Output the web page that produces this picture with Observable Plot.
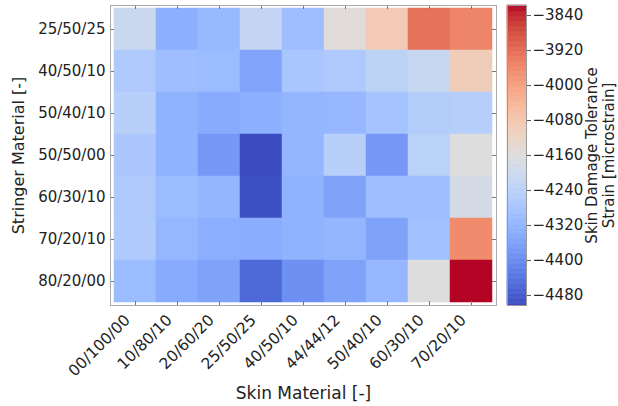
<!DOCTYPE html>
<html>
<head>
<meta charset="utf-8">
<script src="https://cdn.jsdelivr.net/npm/d3@7"></script>
<script src="https://cdn.jsdelivr.net/npm/@observablehq/plot@0.6"></script>
<style>
  html, body { margin: 0; padding: 0; background: #fff; }
  #wrap { position: relative; width: 618px; height: 406px; }
  #wrap svg { position: absolute; left: 0; top: 0; }
</style>
</head>
<body>
<div id="wrap"></div>
<script>
// ---- data ----
const skins = ["00/100/00","10/80/10","20/60/20","25/50/25","40/50/10","44/44/12","50/40/10","60/30/10","70/20/10"];
const stringers = ["25/50/25","40/50/10","50/40/10","50/50/00","60/30/10","70/20/10","80/20/00"];
const strain = [
  [-4208,-4331,-4311,-4222,-4297,-4153,-4091,-3927,-3954],
  [-4266,-4297,-4304,-4352,-4277,-4266,-4235,-4215,-4098],
  [-4246,-4325,-4342,-4331,-4318,-4314,-4287,-4256,-4253],
  [-4273,-4325,-4376,-4503,-4318,-4246,-4376,-4242,-4160],
  [-4266,-4304,-4318,-4496,-4325,-4356,-4297,-4297,-4181],
  [-4263,-4314,-4335,-4338,-4325,-4318,-4356,-4290,-3964],
  [-4304,-4342,-4356,-4458,-4393,-4356,-4314,-4160,-3817]
];
const cbTicks = [-4480,-4400,-4320,-4240,-4160,-4080,-4000,-3920,-3840];
const cbLabel = "Skin Damage Tolerance\nStrain [microstrain]";
const xLabel = "Skin Material [-]";
const yLabel = "Stringer Material [-]";

// coolwarm colormap control points
const coolwarm = [
  [59,76,192],[68,90,204],[77,104,215],[87,117,225],[98,130,234],[108,142,241],[119,154,247],[130,165,251],
  [141,176,254],[152,185,255],[163,194,255],[174,201,253],[184,208,249],[194,213,244],[204,217,238],[213,219,230],
  [221,221,221],[229,216,209],[236,211,197],[241,204,184],[245,196,172],[247,187,159],[247,177,147],[247,166,134],
  [244,154,123],[241,141,111],[236,127,99],[229,112,89],[222,96,77],[213,80,66],[203,62,56],[192,40,47],[180,4,38]
].map(([r,g,b]) => `rgb(${r},${g},${b})`);
const interp = d3.piecewise(d3.interpolateRgb, coolwarm);

const table = [];
stringers.forEach((s, i) => skins.forEach((k, j) => table.push({skin: k, stringer: s, value: strain[i][j]})));
const vmin = d3.min(table, d => d.value), vmax = d3.max(table, d => d.value);
const colorOpt = {type: "linear", domain: [vmin, vmax], interpolate: t => interp(t)};

const W = 618, H = 406;
const mL = 110, mR = 122, mT = 5, mB = 101;
const innerH = H - mT - mB, innerW = W - mL - mR;
const style = {fontFamily: "DejaVu Sans", fontSize: "15px", background: "transparent", color: "#222", overflow: "visible"};

const main = Plot.plot({
  width: W, height: H,
  marginLeft: mL, marginRight: mR, marginTop: mT, marginBottom: mB,
  style,
  x: {type: "band", domain: skins, padding: 0},
  y: {type: "band", domain: stringers, padding: 0},
  color: colorOpt,
  marks: [
    Plot.cell(table, {x: "skin", y: "stringer", fill: "value", stroke: "value", strokeWidth: 0.5, inset: 0}),
    Plot.tickX(skins, {x: d => d, stroke: "#777", insetBottom: innerH - 4}),
    Plot.tickX(skins, {x: d => d, stroke: "#777", insetTop: innerH - 4}),
    Plot.tickY(stringers, {y: d => d, stroke: "#777", insetRight: innerW - 4}),
    Plot.tickY(stringers, {y: d => d, stroke: "#777", insetLeft: innerW - 4}),
    Plot.frame({stroke: "#aaa"}),
    Plot.axisX({anchor: "bottom", tickSize: 0, tickPadding: 12, dx: -8, tickRotate: -45, label: null, fontSize: 15.5}),
    Plot.axisY({anchor: "left", tickSize: 0, tickPadding: 5, label: null, fontSize: 15}),
    Plot.text([xLabel], {text: d => d, frameAnchor: "bottom", lineAnchor: "middle", dy: 88, fontSize: 17}),
    Plot.text([yLabel], {text: d => d, frameAnchor: "left", textAnchor: "middle", lineAnchor: "middle", dx: -92, rotate: -90, fontSize: 16})
  ]
});

const nSteps = 240;
const step = (vmax - vmin) / nSteps;
const bands = d3.range(nSteps).map(i => vmin + i * step);

const cbL = 507, cbR = W - 526;
const cbar = Plot.plot({
  width: W, height: H,
  marginLeft: cbL, marginRight: cbR, marginTop: mT, marginBottom: mB,
  style,
  y: {type: "linear", domain: [vmin, vmax]},
  color: colorOpt,
  marks: [
    Plot.rect(bands, {y1: d => d, y2: d => d + step, fill: d => d + step / 2, stroke: d => d + step / 2, strokeWidth: 0.6}),
    Plot.frame({stroke: "#999"}),
    Plot.axisY({anchor: "right", ticks: cbTicks, tickFormat: d3.format("d"), tickSize: 4, tickPadding: 2, label: null, fontSize: 15, stroke: "#555"}),
    Plot.text([cbLabel], {text: d => d, frameAnchor: "middle", textAnchor: "middle", lineAnchor: "middle", dx: 83, rotate: -90, fontSize: 15, lineHeight: 1.1})
  ]
});

const wrap = document.getElementById("wrap");
wrap.appendChild(main);
wrap.appendChild(cbar);
</script>
</body>
</html>
